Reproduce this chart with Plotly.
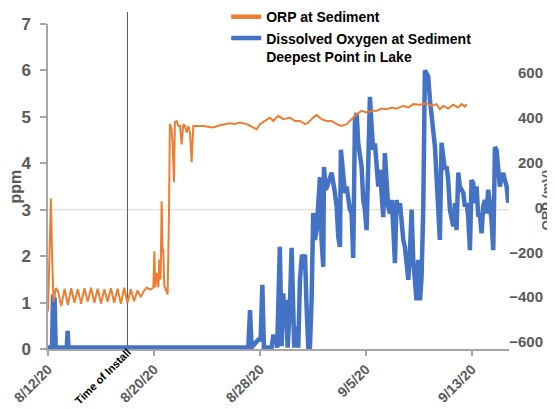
import pandas as pd
import plotly.graph_objects as go

# ---------------- data ----------------
start_date = "2020-08-12"
end_days = 34.8
install_date = "2020-08-18"

x_tick_dates = ["2020-08-12", "2020-08-20", "2020-08-28", "2020-09-05", "2020-09-13"]
x_tick_labels = ["8/12/20", "8/20/20", "8/28/20", "9/5/20", "9/13/20"]
ppm_ticks = [0, 1, 2, 3, 4, 5, 6, 7]
orp_ticks = [-600, -400, -200, 0, 200, 400, 600]

# Dissolved oxygen (ppm), time in days since 8/12/20
do_day = [0.0, 0.3, 0.38, 0.5, 0.58, 1.42, 1.48, 1.55, 15.12, 15.25, 15.37, 15.87, 16.05, 16.18, 16.3,
          16.88, 17.0, 17.2, 17.3, 17.5, 17.64, 17.76, 17.84, 17.96, 18.09, 18.26, 18.39, 18.51, 18.59,
          18.72, 18.89, 19.02, 19.17, 19.27, 19.4, 19.52, 19.65, 19.77, 19.9, 20.02, 20.15, 20.28, 20.4,
          20.53, 20.65, 20.78, 20.83, 20.98, 21.16, 21.41, 21.66, 21.79, 21.91, 22.04, 22.11, 22.29,
          22.42, 22.54, 22.67, 22.79, 22.92, 23.04, 23.17, 23.3, 23.42, 23.55, 23.67, 23.8, 23.92,
          24.05, 24.18, 24.3, 24.43, 24.55, 24.68, 24.8, 24.93, 25.06, 25.18, 25.31, 25.43, 25.56,
          25.68, 25.81, 25.94, 26.06, 26.19, 26.31, 26.44, 26.57, 26.69, 26.82, 26.94, 27.07, 27.2,
          27.32, 27.45, 27.57, 27.7, 27.82, 27.95, 28.08, 28.2, 28.33, 28.45, 28.58, 28.7, 28.83,
          28.96, 29.08, 29.21, 29.33, 29.46, 29.58, 29.71, 29.84, 29.96, 30.09, 30.21, 30.34, 30.47,
          30.59, 30.72, 30.84, 30.97, 31.09, 31.22, 31.35, 31.47, 31.6, 31.72, 31.85, 31.97, 32.1,
          32.23, 32.35, 32.48, 32.6, 32.73, 32.85, 32.98, 33.11, 33.23, 33.36, 33.48, 33.61, 33.74,
          33.86, 33.99, 34.11, 34.24, 34.36, 34.49, 34.62, 34.74]
do_ppm = [0.03, 0.03, 1.1, 1.08, 0.03, 0.03, 0.39, 0.03, 0.03, 0.84, 0.03, 0.2, 0.2, 1.38, 0.03,
          0.03, 0.27, 0.27, 0.03, 2.2, 0.06, 1.2, 0.48, 1.06, 0.03, 0.91, 2.18, 0.91, 0.03,
          0.48, 0.03, 1.49, 2.03, 1.96, 2.03, 0.91, 0.03, 0.03, 1.06, 2.93, 2.35, 2.56, 3.07,
          3.7, 2.35, 1.77, 3.92, 3.43, 3.57, 3.8, 3.36, 3.07, 2.42, 2.2, 4.29, 3.75,
          3.36, 3.5, 3.21, 3.0, 2.92, 1.96, 4.93, 5.08, 4.43, 4.07, 3.93, 3.21, 3.0,
          2.56, 4.79, 5.43, 4.79, 4.29, 4.43, 4.07, 3.5, 3.86, 3.43, 2.84, 4.22, 3.5,
          3.07, 2.92, 3.21, 2.64, 1.85, 3.21, 2.93, 3.14, 2.64, 2.35, 2.2, 1.92, 1.49,
          2.06, 3.0, 1.92, 1.27, 1.05, 1.92, 1.05, 1.56, 3.06, 6.0, 5.94, 5.87, 5.37,
          5.08, 4.79, 4.36, 3.71, 3.0, 2.35, 4.44, 4.07, 3.86, 3.93, 3.64, 3.0, 2.78,
          2.64, 3.14, 2.56, 3.8, 3.5, 3.43, 3.36, 3.07, 3.14, 2.85, 2.13, 3.64, 3.57,
          3.14, 3.5, 2.85, 2.92, 2.49, 3.07, 3.21, 2.92, 3.43, 3.07, 2.78, 2.13, 4.35,
          4.29, 3.93, 3.5, 3.71, 3.79, 3.64, 3.5, 3.15]

# ORP (mV), time in days since 8/12/20
orp_day = [0.0, 0.12, 0.22, 0.3, 0.42, 0.6, 0.75, 1.0, 1.25, 1.5, 1.75, 2.0, 2.25, 2.5, 2.75, 3.0,
           3.25, 3.5, 3.75, 4.0, 4.25, 4.5, 4.75, 5.0, 5.25, 5.5, 5.75, 6.0, 6.25, 6.5, 6.75, 7.0,
           7.25, 7.45, 7.7, 7.95, 8.03, 8.1, 8.2, 8.33, 8.4, 8.5, 8.58, 8.65, 8.7, 8.78, 8.9, 9.03,
           9.13, 9.2, 9.33, 9.4, 9.51, 9.58, 9.71, 9.84, 9.96, 10.09, 10.21, 10.34, 10.47, 10.59,
           10.72, 10.84, 10.97, 11.22, 11.72, 12.2, 12.48, 12.98, 13.4, 13.74, 14.1, 14.49, 15.0,
           15.5, 15.75, 16.0, 16.38, 16.75, 17.0, 17.38, 17.76, 18.26, 18.64, 19.02, 19.4, 19.65,
           20.02, 20.28, 20.65, 21.03, 21.41, 21.79, 22.16, 22.54, 22.92, 23.3, 23.67, 24.05,
           24.43, 24.8, 25.18, 25.56, 25.94, 26.31, 26.82, 27.2, 27.57, 28.08, 28.58, 28.96,
           29.33, 29.58, 29.84, 30.21, 30.59, 30.97, 31.22, 31.47, 31.6]
orp_mv = [-464, -150, 40, -200, -420, -360, -372, -440, -362, -435, -360, -425, -365, -430, -360, -420,
          -358, -425, -362, -428, -365, -420, -360, -425, -362, -430, -358, -425, -365, -418, -370, -400,
          -372, -357, -366, -357, -196, -357, -292, -357, -232, -321, 27, -202, -187, -350, -366, -388,
          -40, 371, 348, 289, 112, 380, 384, 363, 363, 281, 370, 363, 333, 363,
          333, 201, 363, 363, 363, 358, 356, 366, 370, 375, 372, 378, 371,
          356, 348, 371, 385, 400, 385, 408, 393, 400, 385, 385, 371, 378,
          400, 411, 393, 385, 385, 371, 363, 371, 393, 415, 430, 423,
          430, 430, 440, 437, 445, 440, 452, 445, 460, 457, 464, 452,
          460, 437, 452, 440, 457, 445, 460, 449, 460]

assert len(do_day) == len(do_ppm), (len(do_day), len(do_ppm))
assert len(orp_day) == len(orp_mv), (len(orp_day), len(orp_mv))

start = pd.Timestamp(start_date)


def to_time(days):
    return [start + pd.Timedelta(days=d) for d in days]


BLUE = "#4472C4"
ORANGE = "#ED7D31"
GRAY_TXT = "#595959"
AXIS_GRAY = "#A6A6A6"
FONT = "Liberation Sans, Arial, sans-serif"
DO_NAME = "Dissolved Oxygen at Sediment<br>Deepest Point in Lake"
ORP_NAME = "ORP at Sediment"

fig = go.Figure()
fig.add_trace(go.Scatter(
    x=to_time(do_day), y=do_ppm, mode="lines", yaxis="y",
    line=dict(color=BLUE, width=4.5), name=DO_NAME, showlegend=False,
))
fig.add_trace(go.Scatter(
    x=to_time(orp_day), y=orp_mv, mode="lines", yaxis="y2",
    line=dict(color=ORANGE, width=2), name=ORP_NAME, showlegend=False,
))
# legend entries (thick swatches as in the reference)
fig.add_trace(go.Scatter(x=[None], y=[None], mode="lines", yaxis="y2",
                         line=dict(color=ORANGE, width=4.5), name=ORP_NAME, legendrank=1))
fig.add_trace(go.Scatter(x=[None], y=[None], mode="lines", yaxis="y",
                         line=dict(color=BLUE, width=4.5), name=DO_NAME, legendrank=2))

# The page body adds an 8px offset, so the layout is shifted 8px up/left.
OFF = 8
W, H = 555, 409 - OFF
plot_left = 48 - OFF
plot_right = 509 - OFF
axis2_x = 543 - OFF
ml, mt, mb = plot_left, 24 - OFF, 60
mr = W - axis2_x
paper_w = W - ml - mr
x_dom_end = (plot_right - ml) / paper_w
plot_h = H - mt - mb
title2_x = (546 - OFF - ml) / paper_w
title1_x = (15 - OFF - ml) / paper_w

fig.update_layout(
    width=W, height=H,
    margin=dict(l=ml, r=mr, t=mt, b=mb, pad=0, autoexpand=False),
    paper_bgcolor="white", plot_bgcolor="white",
    font=dict(family=FONT, color=GRAY_TXT),
    showlegend=True,
    legend=dict(
        x=0.36, y=1.07, xanchor="left", yanchor="top",
        font=dict(family=FONT, size=14, color="black", weight="bold"),
        bgcolor="rgba(0,0,0,0)", valign="top", tracegroupgap=0,
    ),
    xaxis=dict(
        type="date", domain=[0, x_dom_end], automargin=False,
        range=[start, start + pd.Timedelta(days=end_days)],
        tickvals=[pd.Timestamp(d) for d in x_tick_dates], ticktext=x_tick_labels,
        tickangle=-45, tickfont=dict(family=FONT, size=14, color=GRAY_TXT, weight="bold"),
        showline=True, linecolor=AXIS_GRAY, linewidth=1.5,
        ticks="outside", ticklen=5, tickcolor=AXIS_GRAY, tickwidth=1.5,
        showgrid=False, zeroline=False,
    ),
    yaxis=dict(
        range=[0, 7], tickvals=ppm_ticks, automargin=False,
        tickfont=dict(family=FONT, size=17, color=GRAY_TXT, weight="bold"),
        showline=True, linecolor=AXIS_GRAY, linewidth=1.5,
        ticks="outside", ticklen=6, tickcolor=AXIS_GRAY, tickwidth=1.5,
        ticklabelstandoff=6,
        showgrid=False, zeroline=False,
    ),
    yaxis2=dict(
        overlaying="y", side="left", anchor="free", position=1.0, automargin=False,
        range=[-631, 817], tickvals=orp_ticks,
        tickfont=dict(family=FONT, size=15, color=GRAY_TXT, weight="bold"),
        showline=False, ticks="", showgrid=False, zeroline=False,
    ),
)

# light horizontal gridline (ORP zero / 3 ppm)
fig.add_shape(type="line", xref="x domain", yref="y", x0=0, x1=1, y0=3, y1=3,
              line=dict(color="#D9D9D9", width=1), layer="below")
# time of install vertical line
fig.add_shape(type="line", xref="x", yref="paper", x0=install_date, x1=install_date,
              y0=0, y1=1 + 12 / plot_h, line=dict(color="#595959", width=1), layer="below")

fig.add_annotation(
    x=install_date, xref="x", y=0.0, yref="paper",
    text="Time of Install", showarrow=False, textangle=-45,
    xanchor="right", yanchor="top", xshift=9, yshift=6,
    font=dict(family=FONT, size=11, color="black", weight="bold"),
)
# axis titles
fig.add_annotation(
    x=title1_x, xref="paper", y=0.5, yref="paper",
    text="ppm", showarrow=False, textangle=-90,
    xanchor="center", yanchor="middle",
    font=dict(family=FONT, size=16, color=GRAY_TXT, weight="bold"),
)
fig.add_annotation(
    x=title2_x, xref="paper", y=0.458, yref="paper",
    text="ORP (mV)", showarrow=False, textangle=-90,
    xanchor="center", yanchor="middle",
    font=dict(family=FONT, size=13, color=GRAY_TXT, weight="bold"),
)

fig.write_html("out.html")
